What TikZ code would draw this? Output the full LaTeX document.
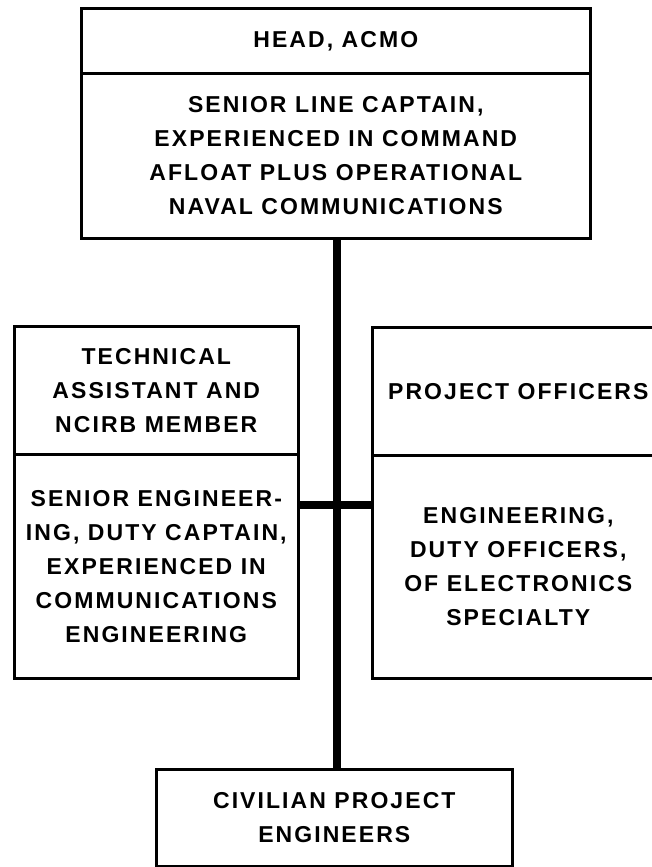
\documentclass[tikz,border=0pt]{standalone}
\usepackage{fontspec}
\setmainfont{Liberation Sans}
\newfontfamily\orgfont{Liberation Sans Bold}[LetterSpace=9]
\begin{document}
\begin{tikzpicture}[x=1pt,y=-1pt,
  orgbox/.style={draw=black,line width=2.6pt,anchor=north west,inner sep=0pt,
    align=center,font=\orgfont\fontsize{23}{34}\selectfont},
  link/.style={draw=black,line width=8pt}]
  \useasboundingbox (0,0) rectangle (652,867);
  \clip (0,0) rectangle (652,867);
  \fill[white] (0,0) rectangle (652,867);
  % head of the office
  \node[orgbox,minimum width=509pt,minimum height=65pt] (headT) at (80,7) {HEAD, ACMO};
  \node[orgbox,minimum width=509pt,minimum height=165pt] (bodyT) at (80,72)
    {SENIOR LINE CAPTAIN,\\EXPERIENCED IN COMMAND\\AFLOAT PLUS OPERATIONAL\\NAVAL COMMUNICATIONS};
  % technical assistant
  \node[orgbox,minimum width=284pt,minimum height=128pt] (headL) at (13,325)
    {TECHNICAL\\ASSISTANT AND\\NCIRB MEMBER};
  \node[orgbox,minimum width=284pt,minimum height=224pt] (bodyL) at (13,453)
    {SENIOR ENGINEER-\\ING, DUTY CAPTAIN,\\EXPERIENCED IN\\COMMUNICATIONS\\ENGINEERING};
  % project officers
  \node[orgbox,minimum width=292pt,minimum height=128pt] (headR) at (371,326)
    {PROJECT OFFICERS};
  \node[orgbox,minimum width=292pt,minimum height=223pt] (bodyR) at (371,454)
    {ENGINEERING,\\DUTY OFFICERS,\\OF ELECTRONICS\\SPECIALTY};
  % civilian engineers
  \node[orgbox,minimum width=356pt,minimum height=97pt] (civ) at (155,768)
    {CIVILIAN PROJECT\\ENGINEERS};
  % connectors
  \coordinate (hub) at ([xshift=1pt]bodyT.south |- 0,505);
  \draw[link] ([xshift=1pt]bodyT.south) -- ([xshift=1pt]bodyT.south |- civ.north);
  \draw[link] (bodyL.east |- hub) -- (bodyR.west |- hub);
\end{tikzpicture}
\end{document}
